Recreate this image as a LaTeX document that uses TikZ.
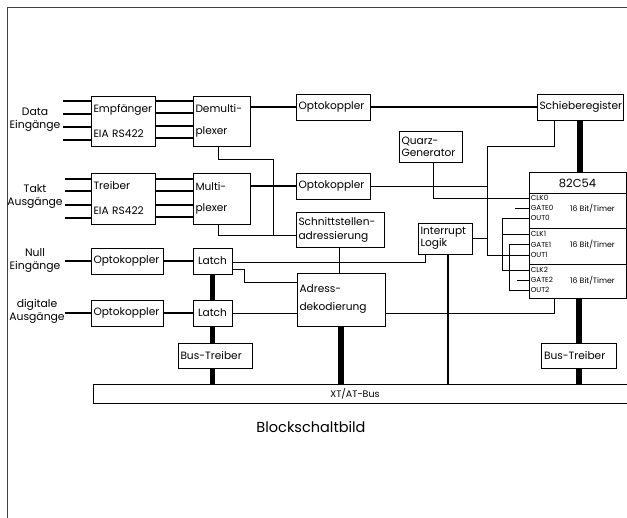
\documentclass[tikz,border=0pt]{standalone}
\usepackage{fontspec}
\setmainfont{Poppins}
\begin{document}
\begin{tikzpicture}[x=1pt,y=-1pt,
  every node/.style={inner sep=0pt},
  box/.style={draw, line width=0.8pt, inner xsep=2.5pt, inner ysep=0pt, align=left, font=\fontsize{10.6}{12}\selectfont},
  lbl/.style={align=center, font=\fontsize{10.8}{13}\selectfont},
  pinl/.style={anchor=west, font=\fontsize{7.2}{8}\selectfont},
  cthin/.style={line width=0.9pt},
  cfat/.style={line width=2.8pt},
  cbus/.style={line width=5.5pt}]
\useasboundingbox (0,0) rectangle (627,518);
\fill[white] (0,0) rectangle (627,518);
\draw[line width=0.9pt, black!75] (7.5,518) -- (7.5,7.5) -- (627,7.5);

% boxes
\node[box, minimum width=64pt, minimum height=50pt, text width=59pt, font=\fontsize{10.6}{25}\selectfont] (emp) at (123,121) {Empfänger\\EIA RS422};
\node[box, minimum width=64pt, minimum height=51pt, text width=59pt, font=\fontsize{10.6}{25}\selectfont] (treib) at (123,198.5) {Treiber\\EIA RS422};
\node[box, minimum width=57pt, minimum height=50pt, text width=52pt, font=\fontsize{10.6}{22}\selectfont] (demux) at (221.5,121) {Demulti-\\plexer};
\node[box, minimum width=57pt, minimum height=51pt, text width=52pt, font=\fontsize{10.6}{21}\selectfont] (mux) at (221.5,198.5) {Multi-\\plexer};
\node[box, minimum width=74pt, minimum height=26pt, text width=69pt] (opt1) at (333,107) {Optokoppler};
\node[box, minimum width=74pt, minimum height=26pt, text width=69pt] (opt2) at (333,186) {Optokoppler};
\node[box, minimum width=88pt, minimum height=35pt, text width=83pt, font=\fontsize{10.6}{14}\selectfont] (schnitt) at (340,229.5) {Schnittstellen-\\adressierung};
\node[box, minimum width=86pt, minimum height=26pt, text width=81pt] (schieb) at (580,107) {Schieberegister};
\node[box, minimum width=63pt, minimum height=31pt, text width=58pt, font=\fontsize{10.6}{12}\selectfont] (quarz) at (430.5,146.5) {Quarz-\\Generator};
\node[box, minimum width=54pt, minimum height=31pt, text width=49pt, font=\fontsize{10.6}{12}\selectfont] (intr) at (445,238.5) {Interrupt\\Logik};
\node[box, minimum width=72pt, minimum height=26pt, text width=67pt] (opt3) at (127,261) {Optokoppler};
\node[box, minimum width=72pt, minimum height=26pt, text width=67pt] (opt4) at (127,313) {Optokoppler};
\node[box, minimum width=39pt, minimum height=26pt, text width=34pt, align=center] (latch1) at (212.5,261) {Latch};
\node[box, minimum width=39pt, minimum height=26pt, text width=34pt, align=center] (latch2) at (212.5,313) {Latch};
\node[box, minimum width=74pt, minimum height=25pt, text width=69pt] (bt1) at (215,355.5) {Bus-Treiber};
\node[box, minimum width=88pt, minimum height=53pt, text width=83pt, font=\fontsize{10.6}{18}\selectfont] (adr) at (341,299.5) {Adress-\\dekodierung};
\node[box, minimum width=75pt, minimum height=25pt, text width=70pt] (bt2) at (579,355.5) {Bus-Treiber};
\node[draw, line width=0.8pt, minimum width=534pt, minimum height=19pt] (bus) at (360,393.5) {};
\node[font=\fontsize{9.5}{11}\selectfont] (bustxt) at (355,393.5) {XT/AT-Bus};

% 82C54
\node[draw, line width=0.8pt, minimum width=97pt, minimum height=126pt] (c54) at (577.5,235) {};
\node[font=\fontsize{11.5}{13}\selectfont] (c54t) at (577.5,183) {82C54};
\foreach \y in {193,228,264} \draw[line width=0.8pt] (c54.west |- 0,\y) -- (c54.east |- 0,\y);
\coordinate (clk0) at (c54.west |- 0,198);
\coordinate (gate0) at (c54.west |- 0,208);
\coordinate (out0) at (c54.west |- 0,218);
\coordinate (clk1) at (c54.west |- 0,234);
\coordinate (gate1) at (c54.west |- 0,244.5);
\coordinate (out1) at (c54.west |- 0,255);
\coordinate (clk2) at (c54.west |- 0,270);
\coordinate (gate2) at (c54.west |- 0,280);
\coordinate (out2) at (c54.west |- 0,290);
\node[pinl] (p1) at ([xshift=2pt]clk0) {CLK0};
\node[pinl] (p2) at ([xshift=2pt]gate0) {GATE0};
\node[pinl] (p3) at ([xshift=2pt]out0) {OUT0};
\node[pinl] (p4) at ([xshift=2pt]clk1) {CLK1};
\node[pinl] (p5) at ([xshift=2pt]gate1) {GATE1};
\node[pinl] (p6) at ([xshift=2pt]out1) {OUT1};
\node[pinl] (p7) at ([xshift=2pt]clk2) {CLK2};
\node[pinl] (p8) at ([xshift=2pt]gate2) {GATE2};
\node[pinl] (p9) at ([xshift=2pt]out2) {OUT2};
\node[pinl, font=\fontsize{7.8}{9}\selectfont] (t1) at (570,208) {16 Bit/Timer};
\node[pinl, font=\fontsize{7.8}{9}\selectfont] (t2) at (570,244.5) {16 Bit/Timer};
\node[pinl, font=\fontsize{7.8}{9}\selectfont] (t3) at (570,280) {16 Bit/Timer};

% left labels
\node[lbl] (data) at (35,119.5) {Data\\Eingänge};
\node[lbl] (takt) at (35,196.5) {Takt\\Ausgänge};
\node[lbl] (null) at (35,260) {Null\\Eingänge};
\node[lbl] (dig) at (37,311.5) {digitale\\Ausgänge};
\node[font=\fontsize{14.5}{17}\selectfont] (title) at (311,427) {Blockschaltbild};

% data / takt stubs
\foreach \y/\w in {101/2.8,114/1.3,127/2.8,140/2.8} \draw[line width=\w pt] (emp.west |- 0,\y) -- ++(-28,0);
\foreach \y/\w in {101/1.3,113/2.8,126/1.3,138/2.8} \draw[line width=\w pt] (emp.east |- 0,\y) -- (demux.west |- 0,\y);
\foreach \y/\w in {179/2.8,191/1.3,205/2.8,218/2.8} \draw[line width=\w pt] (treib.west |- 0,\y) -- ++(-26,0);
\foreach \y/\w in {179/1.3,191/2.8,205/1.3,217/2.8} \draw[line width=\w pt] (treib.east |- 0,\y) -- (mux.west |- 0,\y);

\draw[line width=1.8pt] (demux.east |- opt1.west) -- (opt1.west);
\draw[line width=1.8pt] (opt1.east) -- (schieb.west);
\draw[line width=1.8pt] (mux.east |- opt2.west) -- (opt2.west);

% to Schnittstellen
\coordinate (vs) at (273,159);
\draw[cthin] ([xshift=-3.5pt]demux.south) |- (vs) -- (vs |- 0,235.5);
\draw[cthin] ([xshift=-3.5pt]mux.south) |- ([yshift=-6pt]schnitt.west);

% Schieberegister loop
\coordinate (vx) at (487,146);
\coordinate (k) at (554,146);
\draw[cthin] (k |- schieb.south) -- (k) -- (vx) |- (out1);
\draw[cthin] (opt2.east) -- (opt2.east -| vx);
\draw[cthin] (intr.east) -- (intr.east -| vx);
\draw[cthin] ([xshift=2.5pt]quarz.south) |- (clk0);
\draw[cbus] (schieb.south) -- (schieb.south |- c54.north);

% 82C54 pins
\draw[cthin] (gate0) -- ++(-14,0);
\draw[cthin] (out0) -- ++(-26,0) coordinate (j0) |- (clk2);
\draw[cthin] (clk1) -- (clk1 -| j0);
\draw[cthin] (gate1) -- ++(-19,0) |- (out2);
\draw[cthin] (gate2) -- ++(-12,0);
\draw[cbus] (bt2.north) -- (bt2.north |- c54.south);
\draw[cbus] (bt2.south) -- (bt2.south |- bus.north);

% Adressdekodierung
\draw[cthin] (adr.east |- latch2.east) -| (k |- c54.south);
\draw[cthin] (latch2.east) -- (latch2.east -| adr.west);
\draw[cthin] ([xshift=-1pt]schnitt.south) -- ([xshift=-1pt]schnitt.south |- adr.north);
\draw[cbus] (adr.south) -- (adr.south |- bus.north);

% Interrupt
\draw[line width=2.6pt] ([xshift=3pt]intr.south) -- ([xshift=3pt]intr.south |- bus.north);
\draw[cthin] ([yshift=-1pt]latch1.east) -| ([xshift=-20pt]intr.south);
\draw[cthin] ([yshift=-8pt]latch1.east) -- ++(12,0) |- ([yshift=17.5pt]adr.west);

% Null / digitale
\draw[cfat] (opt3.west) -- ++(-26,0);
\draw[cfat] (opt3.east) -- (opt3.east -| latch1.west);
\draw[line width=2pt] (opt4.west) -- ++(-26,0);
\draw[line width=2.2pt] (opt4.east) -- (opt4.east -| latch2.west);
\draw[cbus] (latch1.south) -- (latch2.north);
\draw[cbus] (latch2.south) -- (latch2.south |- bt1.north);
\draw[cbus] (bt1.south -| latch2.south) -- (latch2.south |- bus.north);
\end{tikzpicture}
\end{document}
